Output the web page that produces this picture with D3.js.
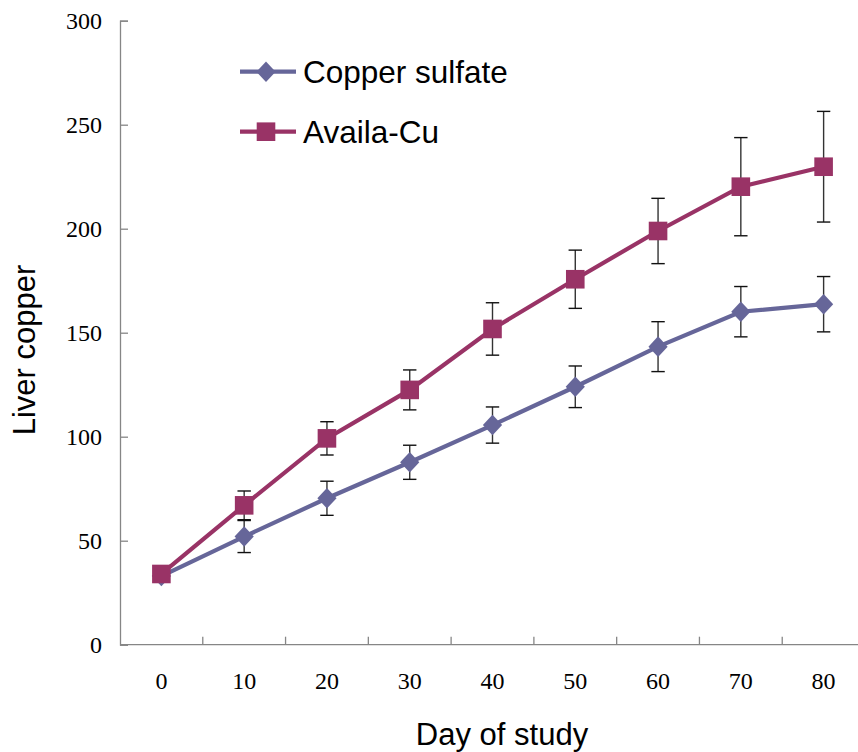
<!DOCTYPE html>
<html><head><meta charset="utf-8">
<script src="https://cdn.jsdelivr.net/npm/d3@7"></script>
<style>body{margin:0;background:#fff}svg{display:block}</style>
</head><body>
<svg id="c" width="858" height="752"></svg>
<script>
const days = ["0","10","20","30","40","50","60","70","80"];
const copperSulfate = [33, 52, 70.4, 87.7, 105.6, 124, 143.3, 160.1, 163.7];
const copperSulfateErr = [0, 7.7, 8.2, 8.2, 8.7, 10, 12, 12.1, 13.3];
const availaCu = [34, 67, 99.2, 122.5, 151.8, 175.7, 198.9, 220.2, 229.8];
const availaCuErr = [0, 6.9, 8, 9.6, 12.6, 14, 15.7, 23.6, 26.6];
const yTicks = [0, 50, 100, 150, 200, 250, 300];
const seriesNames = ["Copper sulfate", "Availa-Cu"];

const svg = d3.select("#c");
const x = d3.scaleBand().domain(days).range([120, 865]).padding(0);
const y = d3.scaleLinear().domain([0, 300]).range([644.7, 20.7]);
const axisColor = "#868686";
const colors = ["#666699", "#993366"];

// Y axis
const gy = svg.append("g").attr("transform", "translate(120,0)")
  .call(d3.axisLeft(y).tickValues(yTicks).tickSize(-8).tickPadding(18).tickFormat(d3.format("d")));
gy.select(".domain").attr("stroke", axisColor).attr("stroke-width", 1.3);
gy.selectAll(".tick line").attr("stroke", axisColor).attr("stroke-width", 1.3);
gy.selectAll(".tick text").attr("font-family", "Liberation Serif, Times New Roman, serif")
  .attr("font-size", 24).attr("fill", "#000").attr("dy", "0.34em");

// X axis
const gx = svg.append("g").attr("transform", `translate(0,${y(0)})`);
gx.append("line").attr("x1", 120).attr("x2", x.range()[1]).attr("stroke", axisColor).attr("stroke-width", 1.3);
const bounds = days.slice(1).map(d => x(d)).concat([x.range()[1]]);
gx.selectAll("line.tk").data(bounds).join("line").attr("class", "tk")
  .attr("x1", d => d).attr("x2", d => d).attr("y1", 0).attr("y2", -8)
  .attr("stroke", axisColor).attr("stroke-width", 1.3);
gx.selectAll("text").data(days).join("text")
  .attr("x", d => x(d) + x.bandwidth() / 2).attr("y", 44.5)
  .attr("text-anchor", "middle")
  .attr("font-family", "Liberation Serif, Times New Roman, serif")
  .attr("font-size", 24).text(d => d);

// Axis titles
svg.append("text").attr("x", 502).attr("y", 745).attr("text-anchor", "middle")
  .attr("font-family", "Liberation Sans, Arial, sans-serif").attr("font-size", 31).text("Day of study");
svg.append("text").attr("transform", "translate(35,350) rotate(-90)").attr("text-anchor", "middle")
  .attr("font-family", "Liberation Sans, Arial, sans-serif").attr("font-size", 31).text("Liver copper");

const cx = d => x(d) + x.bandwidth() / 2;
const diamond = "M0,-10.3L9.6,0L0,10.3L-9.6,0Z";
const series = [
  {vals: copperSulfate, err: copperSulfateErr, color: colors[0], shape: "diamond"},
  {vals: availaCu, err: availaCuErr, color: colors[1], shape: "square"}
];

series.forEach(s => {
  const g = svg.append("g");
  const pts = days.map((d, i) => ({d, v: s.vals[i], e: s.err[i]}));
  g.append("path").datum(pts)
    .attr("d", d3.line().x(p => cx(p.d)).y(p => y(p.v)))
    .attr("fill", "none").attr("stroke", s.color).attr("stroke-width", 4.2);
  const eb = g.selectAll("g.eb").data(pts.filter(p => p.e > 0)).join("g").attr("class", "eb");
  eb.append("line").attr("x1", p => cx(p.d)).attr("x2", p => cx(p.d))
    .attr("y1", p => y(p.v + p.e)).attr("y2", p => y(p.v - p.e))
    .attr("stroke", "#333").attr("stroke-width", 1.4);
  [1, -1].forEach(sg => {
    eb.append("line").attr("x1", p => cx(p.d) - 6.7).attr("x2", p => cx(p.d) + 6.7)
      .attr("y1", p => y(p.v + sg * p.e)).attr("y2", p => y(p.v + sg * p.e))
      .attr("stroke", "#111").attr("stroke-width", 1.4);
  });
  if (s.shape === "diamond") {
    g.selectAll("path.m").data(pts).join("path").attr("class", "m")
      .attr("d", diamond).attr("transform", p => `translate(${cx(p.d)},${y(p.v)})`)
      .attr("fill", s.color);
  } else {
    g.selectAll("rect.m").data(pts).join("rect").attr("class", "m")
      .attr("x", p => cx(p.d) - 9.3).attr("y", p => y(p.v) - 9.3)
      .attr("width", 18.6).attr("height", 18.6).attr("fill", s.color);
  }
});

// Legend
const leg = svg.append("g");
const legY = [71.7, 131.7];
seriesNames.forEach((name, i) => {
  leg.append("line").attr("x1", 240).attr("x2", 296).attr("y1", legY[i]).attr("y2", legY[i])
    .attr("stroke", colors[i]).attr("stroke-width", 4.2);
  if (i === 0) {
    leg.append("path").attr("d", diamond).attr("transform", `translate(266,${legY[i]})`).attr("fill", colors[i]);
  } else {
    leg.append("rect").attr("x", 266 - 9.3).attr("y", legY[i] - 9.3).attr("width", 18.6).attr("height", 18.6).attr("fill", colors[i]);
  }
  leg.append("text").attr("x", 303).attr("y", legY[i] + 11)
    .attr("font-family", "Liberation Sans, Arial, sans-serif").attr("font-size", 31.5).text(name);
});
</script>
</body></html>
